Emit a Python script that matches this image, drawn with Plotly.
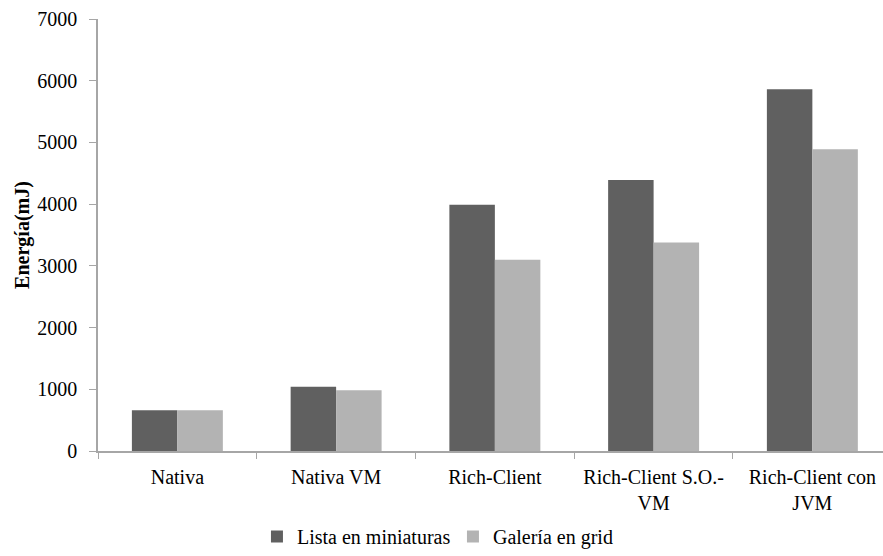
import plotly.graph_objects as go

categories = ["Nativa", "Nativa VM", "Rich-Client", "Rich-Client S.O.-<br>VM", "Rich-Client con<br>JVM"]
lista_miniaturas = [660, 1040, 3990, 4390, 5860]
galeria_grid = [660, 985, 3100, 3380, 4890]

serif = "Liberation Serif"
axis_gray = "#a6a6a6"

fig = go.Figure()
fig.add_trace(go.Bar(
    x=categories, y=lista_miniaturas, name="Lista en miniaturas",
    marker=dict(color="#606060", line=dict(width=0)),
))
fig.add_trace(go.Bar(
    x=categories, y=galeria_grid, name="Galería en grid",
    marker=dict(color="#b3b3b3", line=dict(width=0)),
))

fig.update_layout(
    width=883, height=556,
    margin=dict(l=98, r=0, t=19, b=105),
    paper_bgcolor="white", plot_bgcolor="white",
    font=dict(family=serif, size=20, color="black"),
    barmode="group", bargap=0.427, bargroupgap=0,
    showlegend=True,
    legend=dict(
        orientation="h", xref="container", yref="container",
        x=0.291, y=0.0, xanchor="left", yanchor="bottom",
        font=dict(family=serif, size=20, color="black"),
        itemwidth=30, traceorder="normal",
        entrywidth=151, entrywidthmode="pixels",
    ),
)

fig.update_xaxes(
    type="category", range=[-0.5, 4.445], automargin=False,
    showline=True, linecolor=axis_gray, linewidth=1.5,
    ticks="outside", tickson="boundaries", ticklen=6, tickcolor=axis_gray,
    ticklabelstandoff=7,
    showgrid=False, zeroline=False,
    tickfont=dict(family=serif, size=20, color="black"),
)
fig.update_yaxes(
    range=[0, 7000], dtick=1000, automargin=False,
    showline=True, linecolor=axis_gray, linewidth=1.5,
    ticks="outside", ticklen=7, tickcolor=axis_gray,
    ticklabelstandoff=8,
    showgrid=False, zeroline=False,
    tickfont=dict(family=serif, size=20, color="black"),
    title=dict(text="<b>Energía(mJ)</b>", font=dict(family=serif, size=20, color="black"), standoff=2),
)

fig.write_html("out.html")
